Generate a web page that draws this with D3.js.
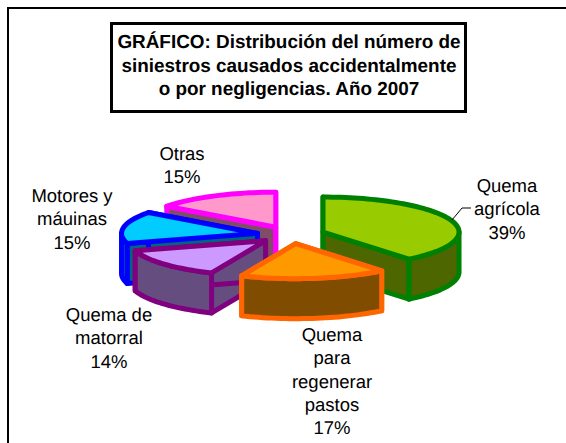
<!DOCTYPE html>
<html>
<head>
<meta charset="utf-8">
<script src="https://cdn.jsdelivr.net/npm/d3@7"></script>
<style>
  html, body { margin: 0; padding: 0; background: #fff; }
  svg { display: block; }
  text { font-family: "Liberation Sans", Arial, sans-serif; fill: #000; text-rendering: geometricPrecision; }
</style>
</head>
<body>
<div id="chart"></div>
<script>
// donnees
var categories = ["Quema agrícola", "Quema para regenerar pastos", "Quema de matorral", "Motores y máuinas", "Otras"];
var valeurs = [39.1, 17.4, 13.9, 14.8, 14.8];
var lignesEtiquettes = [
  ["Quema", "agrícola", "39%"],
  ["Quema", "para", "regenerar", "pastos", "17%"],
  ["Quema de", "matorral", "14%"],
  ["Motores y", "máuinas", "15%"],
  ["Otras", "15%"]
];
var lignesTitre = ["GRÁFICO: Distribución del número de", "siniestros causados accidentalmente", "o por negligencias. Año 2007"];

var couleursFace = ["#99CC00", "#FF9900", "#CC99FF", "#00CCFF", "#FF99CC"];
var couleursBord = ["#008000", "#FF6600", "#800080", "#0000FF", "#FF00FF"];
var couleursMur = ["#4D6600", "#804D00", "#664D80", "#006680", "#804D66"];

var largeurSvg = 566, hauteurSvg = 443;
var centreX = 291, centreY = 235, rayonX = 136, rayonY = 35, epaisseur = 40, eclatement = 0.25;

// position du texte de chaque etiquette (centre, premiere ligne)
var posEtiquettes = [[507, 192], [332, 341], [109, 321], [72, 202], [182, 160]];
var interligne = 23.3;

var svg = d3.select("#chart").append("svg")
  .attr("width", largeurSvg)
  .attr("height", hauteurSvg);

// cadre du graphique : seuls les bords haut et gauche sont dans l'image
svg.append("rect")
  .attr("x", 8).attr("y", 8)
  .attr("width", largeurSvg + 20).attr("height", hauteurSvg + 20)
  .attr("fill", "#fff").attr("stroke", "#000").attr("stroke-width", 2);

var arcs = d3.pie().sort(null).value(function(d) { return d; })(valeurs);

// projection de la part en perspective : angle 0 en haut, sens horaire
function projette(a, c, z) {
  return [c[0] + rayonX * Math.sin(a), c[1] - rayonY * Math.cos(a) + (z || 0)];
}

// centre de la part, decale le long de son angle median
function centrePart(d) {
  var m = (d.startAngle + d.endAngle) / 2;
  return [centreX + rayonX * eclatement * Math.sin(m), centreY - rayonY * eclatement * Math.cos(m)];
}

var ligne = d3.line();

function arcPoints(a0, a1, c, z) {
  var n = Math.max(2, Math.ceil((a1 - a0) * 30));
  return d3.range(n + 1).map(function(i) {
    return projette(a0 + (a1 - a0) * i / n, c, z);
  });
}

// un mur plat partant du centre vers le bord
function murCoupe(a, c) {
  var p = projette(a, c, 0), q = projette(a, c, epaisseur);
  return [c, p, q, [c[0], c[1] + epaisseur]];
}

// le mur courbe exterieur, seulement la partie tournee vers l'avant
function murArc(d, c) {
  var a0 = Math.max(d.startAngle, Math.PI / 2), a1 = Math.min(d.endAngle, 3 * Math.PI / 2);
  if (a1 <= a0) return null;
  return arcPoints(a0, a1, c, 0).concat(arcPoints(a0, a1, c, epaisseur).reverse());
}

function dessine(g, pts, i, fond) {
  g.append("path")
    .attr("d", ligne(pts) + "Z")
    .attr("fill", fond)
    .attr("stroke", couleursBord[i])
    .attr("stroke-width", 5)
    .attr("stroke-linejoin", "round");
}

// ordre de dessin : du fond vers l'avant
var ordre = [4, 3, 0, 2, 1];
ordre.forEach(function(i) {
  var d = arcs[i], c = centrePart(d);
  var g = svg.append("g").attr("class", "part");
  dessine(g, murCoupe(d.startAngle, c), i, couleursMur[i]);
  dessine(g, murCoupe(d.endAngle, c), i, couleursMur[i]);
  var m = murArc(d, c);
  if (m) dessine(g, m, i, couleursMur[i]);
  dessine(g, [c].concat(arcPoints(d.startAngle, d.endAngle, c, 0)), i, couleursFace[i]);
});

// etiquettes
lignesEtiquettes.forEach(function(lignes, i) {
  var t = svg.append("text")
    .attr("text-anchor", "middle")
    .attr("font-size", 18.5);
  lignes.forEach(function(l, j) {
    t.append("tspan")
      .attr("x", posEtiquettes[i][0])
      .attr("y", posEtiquettes[i][1] + j * interligne)
      .text(l);
  });
});

// trait de rappel de la premiere etiquette
svg.append("path")
  .attr("d", ligne([[452, 220], [462, 208], [471, 208]]))
  .attr("fill", "none")
  .attr("stroke", "#000")
  .attr("stroke-width", 1);

// cartouche du titre
svg.append("rect")
  .attr("x", 111.5).attr("y", 23.5)
  .attr("width", 354).attr("height", 88)
  .attr("fill", "#fff").attr("stroke", "#000").attr("stroke-width", 3);

svg.append("g").selectAll("text")
  .data(lignesTitre)
  .join("text")
  .attr("x", 289)
  .attr("y", function(d, i) { return 48 + i * 23.5; })
  .attr("text-anchor", "middle")
  .attr("font-size", 18.9)
  .attr("font-weight", "bold")
  .text(function(d) { return d; });
</script>
</body>
</html>
